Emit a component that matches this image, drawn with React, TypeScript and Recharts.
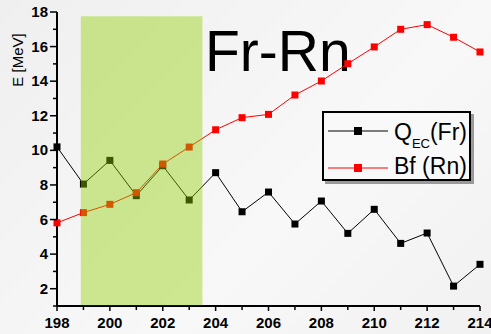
import { ComposedChart, Line, XAxis, YAxis, ReferenceArea, Customized } from 'recharts'

const massNumbers = [198, 199, 200, 201, 202, 203, 204, 205, 206, 207, 208, 209, 210, 211, 212, 213, 214]
const qecFr = [10.2, 8.05, 9.42, 7.38, 9.11, 7.13, 8.71, 6.45, 7.59, 5.74, 7.07, 5.2, 6.59, 4.62, 5.22, 2.15, 3.41]
const bfRn = [5.81, 6.4, 6.88, 7.55, 9.21, 10.19, 11.19, 11.89, 12.08, 13.2, 14.01, 15.01, 15.98, 17.0, 17.27, 16.54, 15.69]
const xTicks = massNumbers
const yTicks = [1, 2, 3, 4, 5, 6, 7, 8, 9, 10, 11, 12, 13, 14, 15, 16, 17, 18]

// shaded band of nuclei
const bandX = [198.9, 203.5]
const bandY = [1.05, 17.75]

const data = massNumbers.map((a, i) => ({ a, q: qecFr[i], bf: bfRn[i] }))

const FONT = '"Liberation Sans", Arial, sans-serif'
const W = 491
const H = 334
const LEFT = 57
const RIGHT = 480
const TOP = 12
const BOTTOM = 306

const square = (color: string) => (p: any) => {
  if (p.cx == null || p.cy == null) return <g key={p.key} />
  return <rect key={p.key} x={p.cx - 3.5} y={p.cy - 3.5} width={7} height={7} fill={color} />
}

const BottomTick = (p: any) => {
  const x = p.x
  const v = p.payload.value
  const major = v % 2 === 0
  return (
    <g>
      <line x1={x} x2={x} y1={BOTTOM} y2={BOTTOM + (major ? 5 : 4)} stroke="#000" strokeWidth={1.5} />
      {major && (
        <text x={x} y={328} textAnchor="middle" fontFamily={FONT} fontWeight="bold" fontSize={15} fill="#000">
          {v}
        </text>
      )}
    </g>
  )
}

const TopTick = (p: any) => (
  <line x1={p.x} x2={p.x} y1={TOP} y2={TOP - 5} stroke="#000" strokeWidth={1.5} />
)

const LeftTick = (p: any) => {
  const y = p.y
  const v = p.payload.value
  const major = v % 2 === 0
  return (
    <g>
      <line x1={LEFT} x2={LEFT - (major ? 7 : 4)} y1={y} y2={y} stroke="#000" strokeWidth={1.5} />
      {major && (
        <text x={48} y={y + 5} textAnchor="end" fontFamily={FONT} fontWeight="bold" fontSize={15} fill="#000">
          {v}
        </text>
      )}
    </g>
  )
}

const RightTick = (p: any) => (
  <line x1={RIGHT} x2={RIGHT - 3} y1={p.y} y2={p.y} stroke="#555" strokeWidth={1} />
)

const Title = () => (
  <text x={205} y={71} fontFamily={FONT} fontSize={57} fill="#000">
    Fr-Rn
  </text>
)

const AxisTitle = () => (
  <text transform="translate(23,60) rotate(-90)" textAnchor="middle" fontFamily={FONT} fontSize={15} fill="#000">
    E [MeV]
  </text>
)

const LegendBox = () => (
  <div
    style={{
      position: 'absolute',
      left: 322,
      top: 111,
      width: 145,
      height: 66,
      border: '2px solid #000',
      background: '#f9f9f9',
      boxShadow: '3px 3px 0 #9a9a9a',
    }}
  >
    <svg width={145} height={66} style={{ display: 'block' }}>
      <line x1={4} x2={64} y1={18} y2={18} stroke="#000" strokeWidth={1} />
      <rect x={30} y={14} width={8} height={8} fill="#000" />
      <text x={70} y={27} fontFamily={FONT} fontSize={23} fill="#000">
        Q<tspan fontSize={13} dy={8}>EC</tspan>
        <tspan dy={-8}>(Fr)</tspan>
      </text>
      <line x1={4} x2={64} y1={55} y2={55} stroke="#f00" strokeWidth={1} />
      <rect x={30} y={51} width={8} height={8} fill="#f00" />
      <text x={70} y={61} fontFamily={FONT} fontSize={23} fill="#000">
        Bf (Rn)
      </text>
    </svg>
  </div>
)

export default function App() {
  return (
    <div
      style={{
        position: 'fixed',
        left: 0,
        top: 0,
        width: W,
        height: H,
        overflow: 'hidden',
        background: 'linear-gradient(135deg, #efefef 0%, #f8f8f8 60%, #f1f1f1 100%)',
      }}
    >
      <ComposedChart width={W} height={H} data={data} margin={{ top: TOP, right: W - RIGHT, bottom: 0, left: 0 }}>
        <Customized component={Title} />
        <Customized component={AxisTitle} />
        <XAxis
          xAxisId="b"
          dataKey="a"
          type="number"
          domain={[198, 214]}
          ticks={xTicks}
          interval={0}
          height={H - BOTTOM}
          tickLine={false}
          tick={<BottomTick />}
          axisLine={{ stroke: '#000', strokeWidth: 2 }}
        />
        <XAxis
          xAxisId="t"
          orientation="top"
          dataKey="a"
          type="number"
          domain={[198, 214]}
          ticks={xTicks}
          interval={0}
          height={0}
          tickLine={false}
          tick={<TopTick />}
          axisLine={{ stroke: '#000', strokeWidth: 1.5 }}
        />
        <YAxis
          yAxisId="l"
          type="number"
          domain={[1, 18]}
          ticks={yTicks}
          interval={0}
          width={LEFT}
          tickLine={false}
          tick={<LeftTick />}
          axisLine={{ stroke: '#000', strokeWidth: 2 }}
        />
        <YAxis
          yAxisId="r"
          orientation="right"
          type="number"
          domain={[1, 18]}
          ticks={yTicks}
          interval={0}
          width={0}
          tickLine={false}
          tick={<RightTick />}
          axisLine={{ stroke: '#666', strokeWidth: 2 }}
        />
        <Line
          xAxisId="b"
          yAxisId="l"
          dataKey="q"
          type="linear"
          stroke="#000"
          strokeWidth={1}
          dot={square('#000')}
          isAnimationActive={false}
        />
        <Line
          xAxisId="b"
          yAxisId="l"
          dataKey="bf"
          type="linear"
          stroke="#f00"
          strokeWidth={1}
          dot={square('#f00')}
          isAnimationActive={false}
        />
        <ReferenceArea
          xAxisId="b"
          yAxisId="l"
          x1={bandX[0]}
          x2={bandX[1]}
          y1={bandY[0]}
          y2={bandY[1]}
          fill="#92d000"
          fillOpacity={0.42}
          stroke="none"
          zIndex={1000}
        />
      </ComposedChart>
      <LegendBox />
    </div>
  )
}
